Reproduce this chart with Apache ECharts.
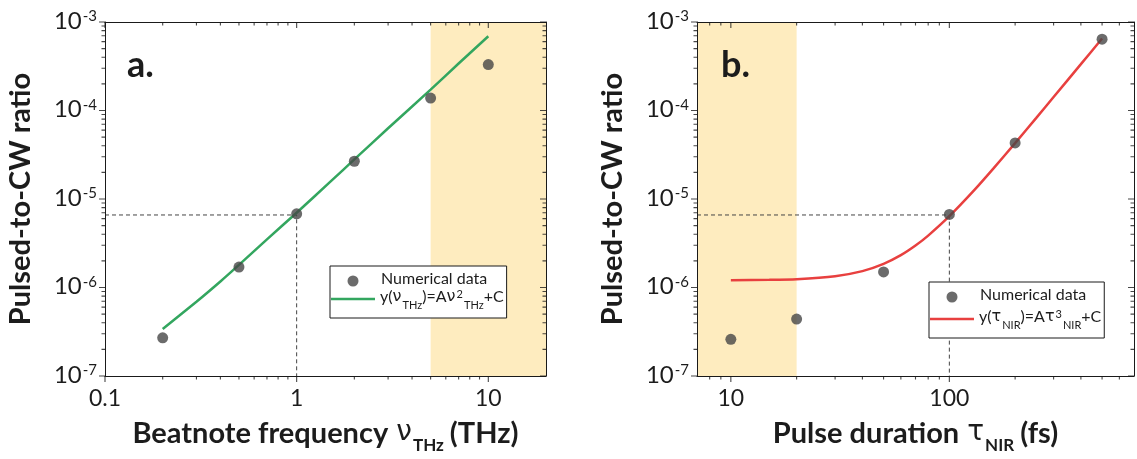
<!DOCTYPE html>
<html><head><meta charset="utf-8">
<script src="https://cdn.jsdelivr.net/npm/echarts@6/dist/echarts.min.js"></script>
<style>html,body{margin:0;padding:0;background:#fff}#c{width:1137px;height:459px}</style>
</head><body><div id="c"></div>
<script>
// ---------- data ----------
const nuTHz = [0.2, 0.5, 1, 2, 5, 10];
const ratioA = [2.7e-7, 1.7e-6, 6.8e-6, 2.67e-5, 1.38e-4, 3.3e-4];
const nuFit = [0.2, 0.3, 0.4, 0.5, 0.7, 1, 1.5, 2, 3, 5, 7, 10];
const fitA = [3.4e-7, 6.9e-7, 1.17e-6, 1.8e-6, 3.5e-6, 7.0e-6, 1.57e-5, 2.8e-5, 6.3e-5, 1.72e-4, 3.4e-4, 6.9e-4];

const tauNIR = [10, 20, 50, 100, 200, 500];
const ratioB = [2.6e-7, 4.4e-7, 1.5e-6, 6.7e-6, 4.3e-5, 6.4e-4];
const tauFit = [10, 15, 20, 30, 40, 50, 60, 70, 80, 100, 130, 160, 200, 250, 300, 400, 500];
const fitB = [1.21e-6, 1.22e-6, 1.24e-6, 1.34e-6, 1.53e-6, 1.85e-6, 2.32e-6, 2.98e-6, 3.86e-6, 6.4e-6, 1.26e-5, 2.25e-5, 4.28e-5, 8.25e-5, 1.42e-4, 3.34e-4, 6.5e-4];

const refA = [[0.1, 6.6e-6], [1, 6.6e-6], [1, 1e-7]];
const refB = [[7, 6.6e-6], [100, 6.6e-6], [100, 1e-7]];
const shadeA = [5, 20];
const shadeB = [7, 20];

const xRangeA = [0.1, 20];
const xRangeB = [7, 700];
const yRange = [1e-7, 1e-3];
const xTickLabelsA = ['0.1', '1', '10'];
const xTickLabelsB = ['10', '100'];
const yTickExponents = [-7, -6, -5, -4, -3];

// ---------- helpers ----------
const F = 'Lato, "Open Sans", sans-serif';
const TXT = '#1c1c1c';
function zip(a, b) { return a.map((v, i) => [v, b[i]]); }
function decadeTicks(lo, hi) {
  const major = [], minor = [];
  const e0 = Math.floor(Math.log10(lo) + 1e-9), e1 = Math.ceil(Math.log10(hi) - 1e-9);
  for (let e = e0; e <= e1; e++) {
    for (let m = 1; m <= 9; m++) {
      const v = m * Math.pow(10, e);
      if (v < lo * 0.999 || v > hi * 1.001) continue;
      if (Math.abs(v - lo) / lo < 1e-6 || Math.abs(v - hi) / hi < 1e-6) { if (m !== 1) continue; }
      (m === 1 ? major : minor).push(v);
    }
  }
  return { major, minor };
}
// tick mark symbols (12x12 box centred on the point; corner specks fix the bounding box)
const BOX = 'M0,0h0.01v0.01h-0.01z M12,12h-0.01v-0.01h0.01z ';
const SYM = {
  down6: 'path://' + BOX + 'M5.45,6h1.1v6h-1.1z',
  down3: 'path://' + BOX + 'M5.45,6h1.1v3.5h-1.1z',
  left6: 'path://' + BOX + 'M0,5.45h6v1.1h-6z',
  left3: 'path://' + BOX + 'M2.5,5.45h3.5v1.1h-3.5z'
};
function tickSeries(xr, yr, axisIdx) {
  const xt = decadeTicks(xr[0], xr[1]), yt = decadeTicks(yr[0], yr[1]);
  const onX = vals => vals.flatMap(v => [[v, yr[0]], [v, yr[1]]]);
  const onY = vals => vals.flatMap(v => [[xr[0], v], [xr[1], v]]);
  const base = { type: 'scatter', xAxisIndex: axisIdx, yAxisIndex: axisIdx, symbolSize: 12, z: 6,
                 itemStyle: { color: '#1a1a1a' } };
  return [
    Object.assign({ name: 'tx' + axisIdx, data: onX(xt.major), symbol: SYM.down6 }, base),
    Object.assign({ name: 'tmx' + axisIdx, data: onX(xt.minor), symbol: SYM.down3 }, base),
    Object.assign({ name: 'ty' + axisIdx, data: onY(yt.major), symbol: SYM.left6 }, base),
    Object.assign({ name: 'tmy' + axisIdx, data: onY(yt.minor), symbol: SYM.left3 }, base)
  ];
}
function xLabelFmt(labels) {
  return function (v) {
    for (const s of labels) { if (Math.abs(Math.log10(v) - Math.log10(parseFloat(s))) < 1e-3) return s; }
    return '';
  };
}
function yLabelFmt(v) {
  const e = Math.round(Math.log10(v));
  if (Math.abs(Math.log10(v) - e) > 1e-3 || yTickExponents.indexOf(e) < 0) return '';
  return '{b|10}{s|' + e + '}';
}
const yLabelRich = {
  b: { fontSize: 24, fontFamily: F, color: TXT, lineHeight: 26, verticalAlign: 'top' },
  s: { fontSize: 15, fontFamily: F, color: TXT, lineHeight: 14, verticalAlign: 'top', padding: [0, 0, 0, 1] }
};
const nameRich = {
  b: { fontSize: 29, fontWeight: 'bold', fontFamily: F, color: TXT, lineHeight: 33, verticalAlign: 'top' },
  g: { fontSize: 28, fontWeight: 'normal', fontFamily: '"DejaVu Sans"', color: TXT, lineHeight: 33, verticalAlign: 'top', padding: [0, 0, 0, 1] },
  s: { fontSize: 17, fontWeight: 'bold', fontFamily: F, color: TXT, lineHeight: 18, verticalAlign: 'top', padding: [18, 6, 0, 1] }
};
const legRich = {
  nd: { fontSize: 16, fontFamily: F, color: TXT, lineHeight: 20, verticalAlign: 'top', padding: [0, 0, 0, 1] },
  t: { fontSize: 16, fontFamily: F, color: TXT, lineHeight: 20, verticalAlign: 'top' },
  g: { fontSize: 16, fontFamily: '"DejaVu Sans"', color: TXT, lineHeight: 20, verticalAlign: 'top' },
  sub: { fontSize: 11, fontFamily: F, color: TXT, lineHeight: 12, verticalAlign: 'top', padding: [11, 0, 0, 1] },
  sup: { fontSize: 11, fontFamily: F, color: TXT, lineHeight: 12, verticalAlign: 'top', padding: [0, 0, 0, 1] }
};
const lineIcon = 'path://M0,0h0.01v0.01h-0.01z M0,4.2h44v2.6h-44z M43.99,10.99h0.01v0.01h-0.01z';

function xAxes(gi, xr, labels, name) {
  const line = { show: true, onZero: false, lineStyle: { color: '#1a1a1a', width: 1 } };
  return [
    { gridIndex: gi, type: 'log', logBase: 10, min: xr[0], max: xr[1], position: 'bottom', z: 5,
      axisLine: line, axisTick: { show: false }, splitLine: { show: false }, minorTick: { show: false },
      axisLabel: { formatter: xLabelFmt(labels), fontSize: 23, fontFamily: F, color: TXT, margin: 11, showMinLabel: true, showMaxLabel: true },
      name: name, nameLocation: 'middle', nameGap: 43, nameTextStyle: { rich: nameRich } },
    { gridIndex: gi, type: 'log', logBase: 10, min: xr[0], max: xr[1], position: 'top', z: 5,
      axisLine: line, axisTick: { show: false }, splitLine: { show: false }, axisLabel: { show: false } }
  ];
}
function yAxes(gi) {
  const line = { show: true, onZero: false, lineStyle: { color: '#1a1a1a', width: 1 } };
  return [
    { gridIndex: gi, type: 'log', logBase: 10, min: yRange[0], max: yRange[1], position: 'left', z: 5,
      axisLine: line, axisTick: { show: false }, splitLine: { show: false },
      axisLabel: { formatter: yLabelFmt, rich: yLabelRich, margin: 8, showMinLabel: true, showMaxLabel: true },
      name: 'Pulsed-to-CW ratio', nameLocation: 'middle', nameGap: 70,
      nameTextStyle: { fontSize: 29, fontWeight: 'bold', fontFamily: F, color: TXT } },
    { gridIndex: gi, type: 'log', logBase: 10, min: yRange[0], max: yRange[1], position: 'right', z: 5,
      axisLine: line, axisTick: { show: false }, splitLine: { show: false }, axisLabel: { show: false } }
  ];
}

const shadeColor = '#feecbf';
const option = {
  animation: false,
  backgroundColor: '#fff',
  title: [
    { text: 'a.', left: 127, top: 47, padding: 0, textStyle: { fontSize: 36, fontWeight: 'bold', fontFamily: F, color: TXT, lineHeight: 36 } },
    { text: 'b.', left: 721, top: 47, padding: 0, textStyle: { fontSize: 36, fontWeight: 'bold', fontFamily: F, color: TXT, lineHeight: 36 } }
  ],
  grid: [
    { left: 105, top: 22, width: 441, height: 354 },
    { left: 697, top: 22, width: 439, height: 354 }
  ],
  xAxis: [...xAxes(0, xRangeA, xTickLabelsA, '{b|Beatnote frequency }{g|ν}{s|THz}{b|(THz)}'),
          ...xAxes(1, xRangeB, xTickLabelsB, '{b|Pulse duration }{g|τ}{s|NIR}{b|(fs)}')],
  yAxis: [...yAxes(0), ...yAxes(1)],
  legend: [
    { left: 330, top: 266, orient: 'vertical', selectedMode: false, z: 20,
      backgroundColor: '#fff', borderColor: '#1a1a1a', borderWidth: 1, borderRadius: 0,
      padding: [5, 3, 7, 1], itemGap: 2, itemWidth: 44, itemHeight: 11,
      data: [{ name: 'dataA', icon: 'circle' }, { name: 'fitA', icon: lineIcon }],
      formatter: n => n === 'dataA' ? '{nd|Numerical data}' : '{t|y(}{g|ν}{sub|THz}{t|)=A}{g|ν}{sup|2}{sub|THz}{t|+C}',
      textStyle: { rich: legRich } },
    { left: 929, top: 282, orient: 'vertical', selectedMode: false, z: 20,
      backgroundColor: '#fff', borderColor: '#1a1a1a', borderWidth: 1, borderRadius: 0,
      padding: [5, 3, 7, 1], itemGap: 6, itemWidth: 44, itemHeight: 11,
      data: [{ name: 'dataB', icon: 'circle' }, { name: 'fitB', icon: lineIcon }],
      formatter: n => n === 'dataB' ? '{nd|Numerical data}' : '{t|y(}{g|τ}{sub|NIR}{t|)=A}{g|τ}{sup|3}{sub|NIR}{t|+C}',
      textStyle: { rich: legRich } }
  ],
  series: [
    { name: 'shadeA', type: 'line', xAxisIndex: 0, yAxisIndex: 0, data: [], z: 1, silent: true,
      markArea: { silent: true, itemStyle: { color: shadeColor }, data: [[{ xAxis: shadeA[0] }, { xAxis: shadeA[1] }]] } },
    { name: 'refA', type: 'line', xAxisIndex: 0, yAxisIndex: 0, data: refA, symbol: 'none', z: 2, silent: true,
      lineStyle: { color: '#444', width: 1, type: [4, 3] } },
    { name: 'fitA', type: 'line', xAxisIndex: 0, yAxisIndex: 0, data: zip(nuFit, fitA), symbol: 'none', smooth: 0.2, z: 3,
      lineStyle: { color: '#33a65f', width: 2.5 }, itemStyle: { color: '#33a65f' } },
    { name: 'dataA', type: 'scatter', xAxisIndex: 0, yAxisIndex: 0, data: zip(nuTHz, ratioA), symbol: 'circle', symbolSize: 11, z: 4,
      itemStyle: { color: '#464646' } },
    ...tickSeries(xRangeA, yRange, 0),

    { name: 'shadeB', type: 'line', xAxisIndex: 2, yAxisIndex: 2, data: [], z: 1, silent: true,
      markArea: { silent: true, itemStyle: { color: shadeColor }, data: [[{ xAxis: shadeB[0] }, { xAxis: shadeB[1] }]] } },
    { name: 'refB', type: 'line', xAxisIndex: 2, yAxisIndex: 2, data: refB, symbol: 'none', z: 2, silent: true,
      lineStyle: { color: '#444', width: 1, type: [4, 3] } },
    { name: 'fitB', type: 'line', xAxisIndex: 2, yAxisIndex: 2, data: zip(tauFit, fitB), symbol: 'none', smooth: 0.2, z: 3,
      lineStyle: { color: '#e8403f', width: 2.5 }, itemStyle: { color: '#e8403f' } },
    { name: 'dataB', type: 'scatter', xAxisIndex: 2, yAxisIndex: 2, data: zip(tauNIR, ratioB), symbol: 'circle', symbolSize: 11, z: 4,
      itemStyle: { color: '#464646' } },
    ...tickSeries(xRangeB, yRange, 2)
  ]
};
const chart = echarts.init(document.getElementById('c'), null, { renderer: 'canvas' });
chart.setOption(option);
</script>
</body></html>
